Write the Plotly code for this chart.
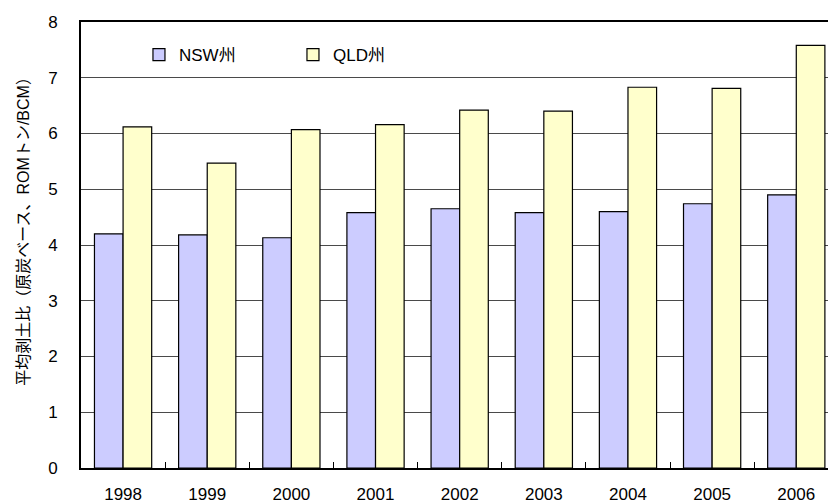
import plotly.graph_objects as go

# Average strip ratio by state, 1998-2006
years = ["1998", "1999", "2000", "2001", "2002", "2003", "2004", "2005", "2006"]
nsw = [4.20, 4.18, 4.13, 4.58, 4.65, 4.58, 4.60, 4.74, 4.90]
qld = [6.12, 5.47, 6.07, 6.16, 6.42, 6.40, 6.83, 6.81, 7.58]
y_ticks = [0, 1, 2, 3, 4, 5, 6, 7, 8]

FONT = "Liberation Sans, Noto Sans CJK JP, Arial, sans-serif"

fig = go.Figure()
fig.add_trace(go.Bar(
    x=years, y=nsw, name="NSW州",
    marker=dict(color="#CCCCFF", line=dict(color="#000000", width=1.2)),
))
fig.add_trace(go.Bar(
    x=years, y=qld, name="QLD州",
    marker=dict(color="#FFFFCC", line=dict(color="#000000", width=1.2)),
))

fig.update_layout(
    width=828, height=504,
    margin=dict(l=81, r=0, t=22, b=36),
    paper_bgcolor="white", plot_bgcolor="white",
    font=dict(family=FONT, size=17, color="#000000"),
    barmode="group", bargap=0.32, bargroupgap=0,
    showlegend=True,
    legend=dict(
        orientation="h", x=0.0776, y=0.966, xanchor="left", yanchor="top",
        bgcolor="rgba(0,0,0,0)", font=dict(size=17),
        entrywidth=109, entrywidthmode="pixels",
    ),
    xaxis=dict(
        type="category", range=[-0.5, 8.377], automargin=False,
        showline=True, mirror=True, linecolor="#000000", linewidth=2,
        ticks="inside", tickson="boundaries", ticklen=6, tickcolor="#000000",
        tickwidth=1, showgrid=False, ticklabelstandoff=10,
        tickfont=dict(size=17),
    ),
    yaxis=dict(
        range=[0, 8], tickvals=y_ticks, automargin=False,
        showline=True, linecolor="#000000", linewidth=2,
        showgrid=True, gridcolor="#4a4a4a", gridwidth=1.3,
        ticks="", ticklabelstandoff=18, zeroline=False,
        tickfont=dict(size=17),
    ),
    annotations=[dict(
        text="平均剥土比（原炭ベース、ROMトン/BCM）",
        xref="paper", yref="paper", x=-0.077, y=0.54,
        xanchor="center", yanchor="middle", textangle=-90,
        showarrow=False, font=dict(size=16, family=FONT),
    )],
)

fig.write_html("out.html")
